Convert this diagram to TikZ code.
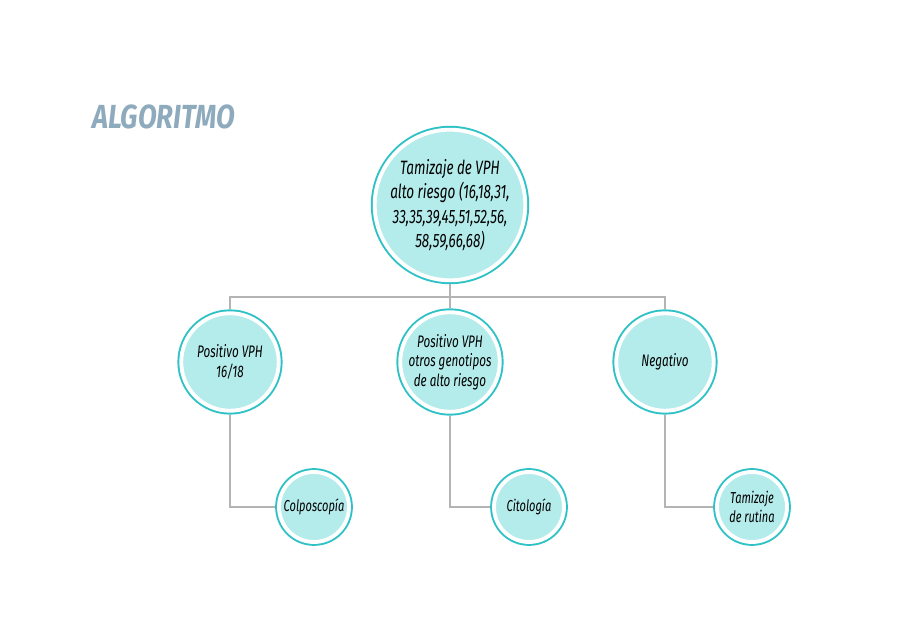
\documentclass[tikz,border=0pt]{standalone}
\usepackage{fontspec}
\setmainfont{Fira Sans}[FakeStretch=0.7]
\newfontfamily\titlefont{Fira Sans}[FakeStretch=0.82]
\usepackage{xcolor}
\usetikzlibrary{positioning}
\definecolor{ringteal}{HTML}{2EC2C6}
\definecolor{cellfill}{HTML}{B4EBEB}
\definecolor{connline}{HTML}{B4B4B4}
\definecolor{titleblue}{HTML}{8EAABD}

\begin{document}
\begin{tikzpicture}[x=0.02cm,y=-0.02cm,
    every node/.style={font=\itshape},
    bubble/.style={circle,fill=cellfill,draw=white,line width=2.2pt,outer sep=2.2pt,
        preaction={draw=ringteal,line width=4.4pt},align=center,inner sep=0pt},
    big/.style={bubble,minimum size=2.95cm,font=\itshape\fontsize{11}{14}\selectfont},
    mid/.style={bubble,minimum size=1.95cm,font=\itshape\fontsize{9.5}{11}\selectfont},
    small/.style={bubble,minimum size=1.4cm,font=\itshape\fontsize{9}{10.5}\selectfont},
    conn/.style={draw=connline,line width=0.7pt}
]
\useasboundingbox (0,0) rectangle (900,634);

% title
\node[anchor=west,font=\titlefont\bfseries\itshape\fontsize{19}{22}\selectfont,text=titleblue] (title) at (86,117) {ALGORITMO};

% level 1
\node[big] (screen) at (450,205) {Tamizaje de VPH\\alto riesgo (16,18,31,\\33,35,39,45,51,52,56,\\58,59,66,68)};

% level 2
\node[mid] (pos1618) at (230,362) {Positivo VPH\\16/18};
\node[mid] (posother) at (450,362) {Positivo VPH\\otros genotipos\\de alto riesgo};
\node[mid] (neg) at (665,362) {Negativo};

% level 3
\node[small] (colpo) at (314,507) {Colposcop\'{\i}a};
\node[small] (cito) at (529,507) {Citolog\'{\i}a};
\node[small] (rutina) at (752,507) {Tamizaje\\de rutina};

% connectors
\coordinate (bar) at (450,297);
\draw[conn] (screen.south) -- (posother.north);
\draw[conn] (pos1618.north) -- (pos1618.north |- bar) -- (neg.north |- bar) -- (neg.north);
\draw[conn] (pos1618.south) |- (colpo.west);
\draw[conn] (posother.south) |- (cito.west);
\draw[conn] (neg.south) |- (rutina.west);
\end{tikzpicture}
\end{document}
